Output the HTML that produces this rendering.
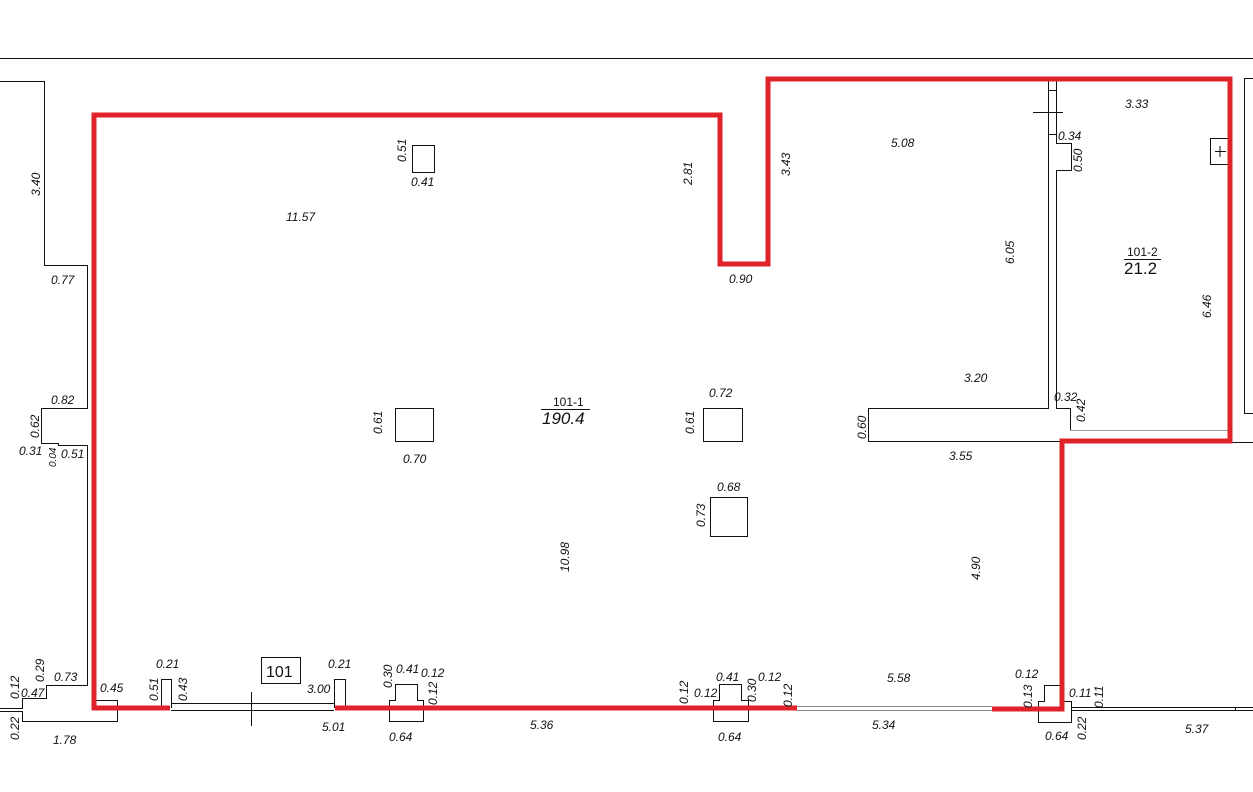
<!DOCTYPE html>
<html><head><meta charset="utf-8"><style>
html,body{margin:0;padding:0;background:#fff;}
svg{display:block;}
text{font-family:"Liberation Sans",sans-serif;font-style:italic;font-size:12px;fill:#111;}
.n{font-style:normal;}
</style></head><body>
<svg width="1253" height="792" viewBox="0 0 1253 792" xmlns="http://www.w3.org/2000/svg">
<g fill="none" stroke="#111" stroke-width="1">
<line x1="0" y1="58.5" x2="1253" y2="58.5"/>
<polyline points="0,81.5 44.5,81.5 44.5,265.5 87.5,265.5 87.5,408.5 41.5,408.5 41.5,443.5 58.5,443.5 58.5,445.5 87.5,445.5 87.5,685.5 46.5,685.5 46.5,698.5 22.5,698.5 22.5,708.5 0,708.5"/>
<polyline points="0,711.5 22.5,711.5 22.5,721.5 117.5,721.5 117.5,700.5 95,700.5"/>
<line x1="171" y1="703.5" x2="334" y2="703.5"/>
<line x1="171" y1="710.5" x2="334" y2="710.5"/>
<line x1="251.5" y1="692" x2="251.5" y2="726"/>
<polyline points="161.5,708 161.5,679.5 171.5,679.5 171.5,708"/>
<polyline points="334.5,708 334.5,679.5 345.5,679.5 345.5,708"/>
<polyline points="389.5,708 389.5,700.5 395.5,700.5 395.5,684.5 417.5,684.5 417.5,700.5 423.5,700.5 423.5,721.5 389.5,721.5 389.5,708"/>
<polyline points="713.5,708 713.5,700.5 719.5,700.5 719.5,684.5 741.5,684.5 741.5,700.5 748.5,700.5 748.5,721.5 713.5,721.5 713.5,708"/>
<line x1="797" y1="706.5" x2="992" y2="706.5" stroke="#888"/>
<line x1="797" y1="710.5" x2="992" y2="710.5" stroke="#888"/>
<polyline points="1038.5,708 1038.5,701.5 1044.5,701.5 1044.5,685.5 1062,685.5"/>
<polyline points="1062,701.5 1071.5,701.5 1071.5,722.5 1038.5,722.5 1038.5,708"/>
<line x1="1072" y1="707.5" x2="1253" y2="707.5"/>
<line x1="1072" y1="710.5" x2="1253" y2="710.5"/>
<line x1="1235.5" y1="707" x2="1235.5" y2="711"/>
<rect x="412.5" y="145.5" width="22" height="27"/>
<rect x="395.5" y="408.5" width="38" height="33"/>
<rect x="703.5" y="408.5" width="39" height="33"/>
<rect x="710.5" y="497.5" width="37" height="39"/>
<polyline points="1048.5,79 1048.5,408.5 868.5,408.5 868.5,441.5 1062,441.5"/>
<polyline points="1056.5,79 1056.5,143.5 1071.5,143.5 1071.5,170.5 1056.5,170.5 1056.5,408.5 1070.5,408.5 1070.5,430.5 1230,430.5"/>
<line x1="1070" y1="430.5" x2="1230" y2="430.5" stroke="#999"/>
<line x1="1033" y1="112.5" x2="1063" y2="112.5"/>
<line x1="1048" y1="90.5" x2="1056" y2="90.5"/>
<line x1="1048" y1="134.5" x2="1056" y2="134.5"/>
<rect x="1210.5" y="138.5" width="19" height="26"/>
<line x1="1220" y1="146" x2="1220" y2="157"/>
<line x1="1215" y1="151.5" x2="1226" y2="151.5"/>
<polyline points="1253,78.5 1244.5,78.5 1244.5,413.5 1253,413.5"/>
<line x1="1062" y1="442.5" x2="1253" y2="442.5"/>
<rect x="261.5" y="657.5" width="39" height="26"/>
</g>
<g fill="none" stroke="#e0222b" stroke-width="5" stroke-linejoin="miter">
<polyline points="170,708 94,708 94,115 720,115 720,264 768,264 768,79 1230,79 1230,441 1062,441 1062,709 992,709"/>
<line x1="335" y1="708" x2="797" y2="708"/>
</g>
<text x="1125" y="108">3.33</text>
<text x="891" y="147">5.08</text>
<text x="1058" y="140">0.34</text>
<text x="286" y="221">11.57</text>
<text x="411" y="186">0.41</text>
<text x="51" y="284">0.77</text>
<text x="729" y="283">0.90</text>
<text x="51" y="404">0.82</text>
<text x="709" y="397">0.72</text>
<text x="964" y="382">3.20</text>
<text x="1054" y="401">0.32</text>
<text x="19" y="455">0.31</text>
<text x="61" y="458">0.51</text>
<text x="403" y="463">0.70</text>
<text x="949" y="460">3.55</text>
<text x="717" y="491">0.68</text>
<text x="156" y="668">0.21</text>
<text x="328" y="668">0.21</text>
<text x="54" y="681">0.73</text>
<text x="396" y="673">0.41</text>
<text x="421" y="677">0.12</text>
<text x="716" y="681">0.41</text>
<text x="758" y="681">0.12</text>
<text x="887" y="682">5.58</text>
<text x="1015" y="678">0.12</text>
<text x="100" y="692">0.45</text>
<text x="307" y="693">3.00</text>
<text x="21" y="697">0.47</text>
<text x="694" y="697">0.12</text>
<text x="1069" y="697">0.11</text>
<text x="322" y="731">5.01</text>
<text x="530" y="729">5.36</text>
<text x="872" y="729">5.34</text>
<text x="1185" y="733">5.37</text>
<text x="53" y="744">1.78</text>
<text x="389" y="741">0.64</text>
<text x="718" y="741">0.64</text>
<text x="1045" y="740">0.64</text>
<text class="n" x="266" y="677" style="font-size:16px">101</text>
<text class="n" x="553" y="406" style="font-size:12px">101-1</text>
<line x1="541" y1="409.5" x2="590" y2="409.5" stroke="#111"/>
<text x="542" y="424" style="font-size:17px">190.4</text>
<text class="n" x="1127" y="256" style="font-size:12px">101-2</text>
<line x1="1124" y1="259.5" x2="1161" y2="259.5" stroke="#111"/>
<text class="n" x="1124" y="274" style="font-size:17px">21.2</text>
<g>
<text transform="translate(40,196) rotate(-90)">3.40</text>
<text transform="translate(406,162) rotate(-90)">0.51</text>
<text transform="translate(692,185) rotate(-90)">2.81</text>
<text transform="translate(790,176) rotate(-90)">3.43</text>
<text transform="translate(1082,172) rotate(-90)">0.50</text>
<text transform="translate(1014,264) rotate(-90)">6.05</text>
<text transform="translate(1211,318) rotate(-90)">6.46</text>
<text transform="translate(1085,422) rotate(-90)">0.42</text>
<text transform="translate(39,438) rotate(-90)">0.62</text>
<text transform="translate(56,467) rotate(-90)" style="font-size:10px">0.04</text>
<text transform="translate(382,434) rotate(-90)">0.61</text>
<text transform="translate(694,434) rotate(-90)">0.61</text>
<text transform="translate(866,439) rotate(-90)">0.60</text>
<text transform="translate(705,527) rotate(-90)">0.73</text>
<text transform="translate(569,572) rotate(-90)">10.98</text>
<text transform="translate(980,580) rotate(-90)">4.90</text>
<text transform="translate(44,682) rotate(-90)">0.29</text>
<text transform="translate(19,699) rotate(-90)">0.12</text>
<text transform="translate(19,740) rotate(-90)">0.22</text>
<text transform="translate(158,701) rotate(-90)">0.51</text>
<text transform="translate(187,701) rotate(-90)">0.43</text>
<text transform="translate(392,688) rotate(-90)">0.30</text>
<text transform="translate(437,705) rotate(-90)">0.12</text>
<text transform="translate(688,704) rotate(-90)">0.12</text>
<text transform="translate(756,702) rotate(-90)">0.30</text>
<text transform="translate(792,707) rotate(-90)">0.12</text>
<text transform="translate(1032,708) rotate(-90)">0.13</text>
<text transform="translate(1103,708) rotate(-90)">0.11</text>
<text transform="translate(1086,740) rotate(-90)">0.22</text>
</g>
</svg>
</body></html>
